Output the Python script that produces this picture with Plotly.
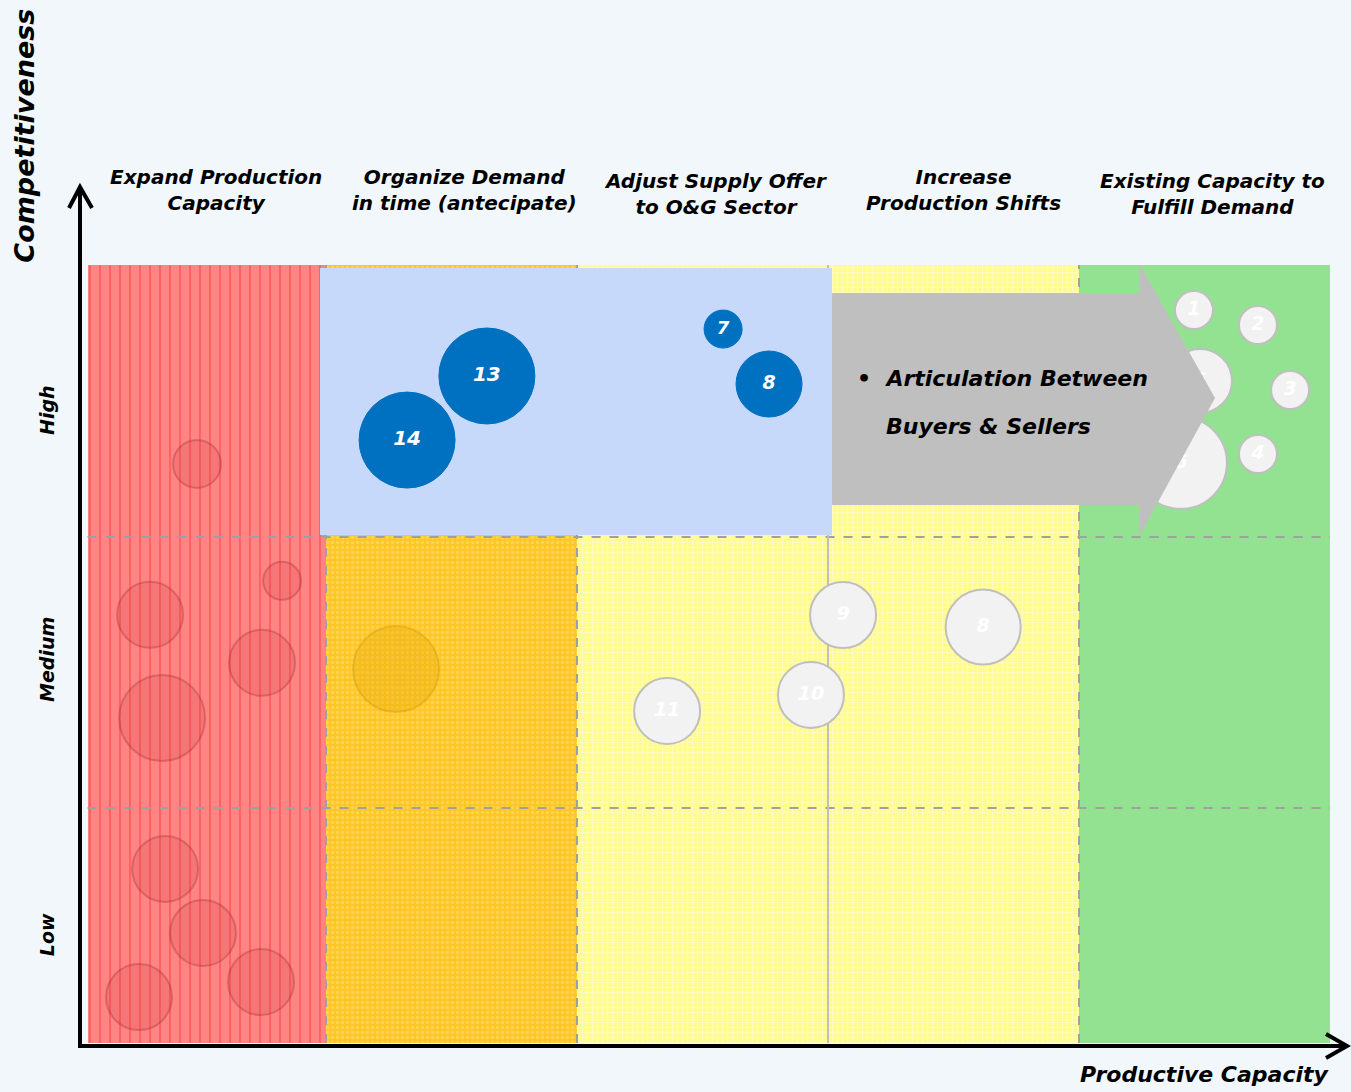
import plotly.graph_objects as go

FONT = "DejaVu Sans"
INK = "#000000"
BG = "#f2f7fb"

# columns of the matrix (productive capacity), x in zone units
zone_edges = [0.05, 1.0, 2.0, 3.0, 4.0, 5.0]
zone_top = 3.0
zone_titles = ["Expand Production<br>Capacity", "Organize Demand<br>in time (antecipate)",
               "Adjust Supply Offer<br>to O&G Sector", "Increase<br>Production Shifts",
               "Existing Capacity to<br>Fulfill Demand"]
zone_title_x = [0.56, 1.55, 2.55, 3.54, 4.53]
zone_title_y = [1.096, 1.096, 1.091, 1.096, 1.091]
zone_colors = ["#ff8585", "#ffc628", "#fffb8f", "#fffb8f", "#92e292"]
zone_patterns = ["|", ".", "+", "+", ""]
zone_pattern_colors = ["#ff2222", "#ffe27a", "#fffde8", "#fffde8", "#92e292"]

# rows (competitiveness)
row_edges = [0.906, 1.951]
row_labels = ["Low", "Medium", "High"]
row_label_y = [0.416, 1.477, 2.441]

# highlight box and arrow
box_x = [0.976, 3.016]
box_y = [1.959, 2.988]
arrow_x = [3.016, 4.243, 4.542]
arrow_body_y = [2.075, 2.892]
arrow_head_y = [1.959, 3.0]
arrow_tip_y = 2.487

# faded bubbles (numbers shown in grey zone bubbles only)
red_x = [0.486, 0.825, 0.299, 0.745, 0.347, 0.359, 0.510, 0.255, 0.741]
red_y = [2.233, 1.782, 1.651, 1.466, 1.253, 0.671, 0.424, 0.177, 0.235]
red_size = [48, 38, 66, 66, 86, 66, 66, 66, 66]

orange_x = [1.279]
orange_y = [1.442]
orange_size = [86]

grey_label = ["11", "10", "9", "8", "1", "2", "3", "4", "5", "6"]
grey_x = [2.359, 2.932, 3.060, 3.618, 4.458, 4.713, 4.841, 4.713, 4.482, 4.406]
grey_y = [1.280, 1.342, 1.650, 1.604, 2.826, 2.769, 2.518, 2.271, 2.553, 2.237]
grey_size = [66, 66, 66, 75, 38, 38, 38, 38, 64, 92]

blue_label = ["13", "14", "7", "8"]
blue_x = [1.641, 1.323, 2.582, 2.765]
blue_y = [2.572, 2.325, 2.753, 2.541]
blue_size = [96, 96, 38, 66]
blue_font = [20, 20, 18, 19]

fig = go.Figure()

# zone backgrounds
for i in range(5):
    x0, x1 = zone_edges[i], zone_edges[i + 1]
    fig.add_trace(go.Bar(x=[(x0 + x1) / 2], y=[zone_top], width=[x1 - x0], base=0,
                         marker=dict(color=zone_colors[i], line=dict(width=0),
                                     pattern=dict(shape=zone_patterns[i], fgcolor=zone_pattern_colors[i],
                                                  bgcolor=zone_colors[i], size=10 if i == 0 else 5,
                                                  solidity=0.14 if i == 0 else 0.35)),
                         hoverinfo="skip", showlegend=False))

# grid lines
for y in row_edges:
    fig.add_trace(go.Scatter(x=[zone_edges[0], zone_edges[-1]], y=[y, y], mode="lines",
                             line=dict(color="#a0a0a0", width=2, dash="dash"),
                             hoverinfo="skip", showlegend=False))
for j, x in enumerate(zone_edges[1:-1]):
    fig.add_trace(go.Scatter(x=[x, x], y=[0, zone_top], mode="lines",
                             line=dict(color="#bfbfbf" if j == 2 else "#a0a0a0", width=2,
                                       dash="solid" if j == 2 else "dash"),
                             hoverinfo="skip", showlegend=False))

# highlight box
fig.add_trace(go.Scatter(x=[box_x[0], box_x[1], box_x[1], box_x[0], box_x[0]],
                         y=[box_y[0], box_y[0], box_y[1], box_y[1], box_y[0]],
                         mode="lines", fill="toself", fillcolor="#c6d9fb", line=dict(width=0),
                         hoverinfo="skip", showlegend=False))

# faded bubbles
fig.add_trace(go.Scatter(x=red_x, y=red_y, mode="markers",
                         marker=dict(size=red_size, color="rgba(205,60,60,0.2)", opacity=1,
                                     line=dict(color="rgba(140,40,40,0.3)", width=2)),
                         hoverinfo="skip", showlegend=False))
fig.add_trace(go.Scatter(x=orange_x, y=orange_y, mode="markers",
                         marker=dict(size=orange_size, color="rgba(225,165,0,0.3)", opacity=1,
                                     line=dict(color="rgba(200,145,0,0.35)", width=2)),
                         hoverinfo="skip", showlegend=False))
fig.add_trace(go.Scatter(x=grey_x, y=grey_y, mode="markers+text", text=grey_label,
                         textposition="middle center",
                         textfont=dict(family=FONT, size=19, color="white", style="italic", weight="bold"),
                         marker=dict(size=grey_size, color="#f2f2f2", opacity=1,
                                     line=dict(color="#bfbfbf", width=2)),
                         hoverinfo="skip", showlegend=False))

# grey arrow
ax0, ax1, ax2 = arrow_x
fig.add_trace(go.Scatter(x=[ax0, ax1, ax1, ax2, ax1, ax1, ax0, ax0],
                         y=[arrow_body_y[0], arrow_body_y[0], arrow_head_y[0], arrow_tip_y,
                            arrow_head_y[1], arrow_body_y[1], arrow_body_y[1], arrow_body_y[0]],
                         mode="lines", fill="toself", fillcolor="#bfbfbf", line=dict(width=0),
                         hoverinfo="skip", showlegend=False))

# highlighted bubbles
fig.add_trace(go.Scatter(x=blue_x, y=blue_y, mode="markers+text", text=blue_label,
                         textposition="middle center",
                         textfont=dict(family=FONT, size=blue_font, color="white", style="italic", weight="bold"),
                         marker=dict(size=blue_size, color="#0070c0", opacity=1,
                                     line=dict(color="#0070c0", width=1)),
                         hoverinfo="skip", showlegend=False))


def label_font(size):
    return dict(family=FONT, size=size, color=INK, style="italic", weight="bold")


annotations = []
for t, x, y in zip(zone_titles, zone_title_x, zone_title_y):
    annotations.append(dict(text=t, x=x, y=y, xref="x", yref="paper", showarrow=False,
                            xanchor="center", yanchor="middle", font=label_font(20)))
for t, y in zip(row_labels, row_label_y):
    annotations.append(dict(text=t, x=-0.0223, y=y, xref="paper", yref="y", showarrow=False,
                            xanchor="center", yanchor="middle", textangle=-90, font=label_font(19)))
annotations.append(dict(text="Competitiveness", x=-0.040, y=1.166, xref="paper", yref="paper",
                        showarrow=False, textangle=-90, xanchor="center", yanchor="middle",
                        font=label_font(27)))
annotations.append(dict(text="Productive Capacity", x=0.900, y=-0.041, xref="paper", yref="paper",
                        showarrow=False, xanchor="center", yanchor="middle", font=label_font(22)))
annotations.append(dict(text="\u2022  Articulation Between", x=3.108, y=2.564, xref="x", yref="y",
                        xanchor="left", yanchor="middle", showarrow=False, font=label_font(22)))
annotations.append(dict(text="Buyers & Sellers", x=3.223, y=2.379, xref="x", yref="y",
                        xanchor="left", yanchor="middle", showarrow=False, font=label_font(22)))


# axis arrows drawn in paper coordinates (plot area is 75..1330 x 265..1043 px)
def px(x):
    return (x - 75) / 1255


def py(y):
    return (1043 - y) / 778


axis_style = dict(color=INK, width=4)
shapes = [
    dict(type="line", xref="paper", yref="paper", x0=px(80), y0=py(1047), x1=px(80), y1=py(188), line=axis_style),
    dict(type="path", xref="paper", yref="paper",
         path=f"M {px(69)},{py(208)} L {px(80)},{py(187)} L {px(92)},{py(208)}", line=axis_style),
    dict(type="line", xref="paper", yref="paper", x0=px(78), y0=py(1046), x1=px(1346), y1=py(1046), line=axis_style),
    dict(type="path", xref="paper", yref="paper",
         path=f"M {px(1326)},{py(1034)} L {px(1347)},{py(1046)} L {px(1326)},{py(1058)}", line=axis_style),
]

fig.update_layout(width=1351, height=1092, margin=dict(l=75, r=21, t=265, b=49),
                  paper_bgcolor=BG, plot_bgcolor=BG,
                  barmode="overlay", bargap=0,
                  xaxis=dict(range=[0, 5], visible=False, fixedrange=True),
                  yaxis=dict(range=[0, 3], visible=False, fixedrange=True),
                  annotations=annotations, shapes=shapes, showlegend=False)

fig.write_html("out.html", config={"displayModeBar": False},
               post_script=f"document.body.style.margin='0';document.body.style.background='{BG}';"
                           "document.body.style.overflow='hidden';")
